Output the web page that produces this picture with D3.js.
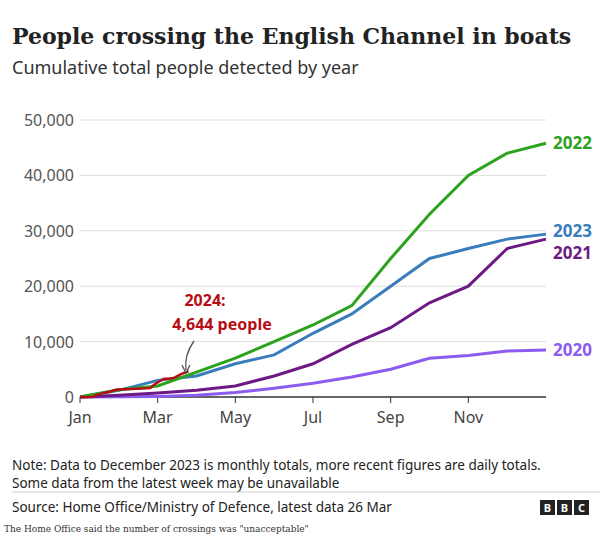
<!DOCTYPE html>
<html><head><meta charset="utf-8">
<script src="https://cdn.jsdelivr.net/npm/d3@7"></script>
<style>
body{margin:0;background:#fff;font-family:"Noto Sans",sans-serif;}
</style></head><body>
<svg id="c" width="613" height="553"></svg>
<script>
// month-end cumulative totals, index 0 = 1 Jan
const months = [0,1,2,3,4,5,6,7,8,9,10,11,12];
const y2022 = [0,1300,2000,4500,7000,10000,13000,16500,25000,33000,40000,44000,45800];
const y2023 = [0,1200,3000,3800,6000,7600,11500,15000,20000,25000,26800,28500,29400];
const y2021 = [0,300,700,1200,2000,3800,6000,9500,12500,17000,20000,26800,28500];
const y2020 = [0,50,100,300,800,1600,2500,3600,5000,7000,7500,8300,8500];
// 2024 daily: [day of year, cumulative]
const d2024 = [[0,0],[10,0],[12,300],[18,700],[24,1000],[28,1300],[35,1400],[45,1500],[55,1600],[58,2200],[62,2800],[66,3300],[70,3300],[74,3500],[78,4000],[81,4300],[85,4644]];
const xTicks = ["Jan","Mar","May","Jul","Sep","Nov"];
const yTicks = [0,10000,20000,30000,40000,50000];

const svg = d3.select("#c");
svg.append("text").attr("x",12).attr("y",44).attr("font-family","'DejaVu Serif',serif").attr("font-weight","bold")
  .attr("font-size",22).attr("fill","#222").text("People crossing the English Channel in boats");
svg.append("text").attr("x",12).attr("y",74).attr("font-size",18).attr("fill","#333").text("Cumulative total people detected by year");

const x = d3.scaleLinear().domain([0,12]).range([80,546]);
const y = d3.scaleLinear().domain([0,50000]).range([397,120]);

svg.append("g").selectAll("line").data(yTicks).join("line")
  .attr("x1",80).attr("x2",546).attr("y1",d=>y(d)).attr("y2",d=>y(d))
  .attr("stroke",d=>d?"#ddd":"#333").attr("stroke-width",d=>d?1:1.5);
svg.append("g").selectAll("text").data(yTicks).join("text")
  .attr("x",74).attr("y",d=>y(d)+6).attr("text-anchor","end").attr("font-size",16).attr("fill","#555")
  .text(d3.format(","));
svg.append("g").selectAll("line").data(xTicks).join("line")
  .attr("x1",(d,i)=>x(i*2)).attr("x2",(d,i)=>x(i*2)).attr("y1",397).attr("y2",403).attr("stroke","#333");
svg.append("g").selectAll("text").data(xTicks).join("text")
  .attr("x",(d,i)=>x(i*2)).attr("y",423).attr("text-anchor","middle").attr("font-size",16).attr("fill","#444").text(d=>d);

const line = d3.line().x((d,i)=>x(months[i])).y(d=>y(d));
const series = [
  {v:y2020,c:"#8c5cf0",name:"2020"},
  {v:y2021,c:"#6d1a84",name:"2021"},
  {v:y2023,c:"#3a7dbd",name:"2023"},
  {v:y2022,c:"#2ba31d",name:"2022"}
];
series.forEach(s=>{
  svg.append("path").attr("d",line(s.v)).attr("fill","none").attr("stroke",s.c).attr("stroke-width",3);
});
const labelY = {"2022":45800,"2023":29400,"2021":27600,"2020":8500};
const labelOff = {"2022":0,"2023":-3,"2021":9,"2020":0};
series.forEach(s=>{
  svg.append("text").attr("x",553).attr("y",y(labelY[s.name])+6+labelOff[s.name]).attr("font-size",17)
    .attr("font-weight","bold").attr("fill",s.c).text(s.name);
});
const dx = d3.scaleLinear().domain([0,365]).range([80,546]);
svg.append("path").attr("d",d3.line().x(d=>dx(d[0])).y(d=>y(d[1]))(d2024))
  .attr("fill","none").attr("stroke","#b80c14").attr("stroke-width",2.5);
svg.append("text").attr("x",205).attr("y",306).attr("text-anchor","middle").attr("font-size",16).attr("font-weight","bold").attr("fill","#b80c14").text("2024:");
svg.append("text").attr("x",222).attr("y",330).attr("text-anchor","middle").attr("font-size",16).attr("font-weight","bold").attr("fill","#b80c14").text("4,644 people");
svg.append("path").attr("d","M194,341 Q184,355 186,370").attr("fill","none").attr("stroke","#555").attr("stroke-width",1.3);
svg.append("path").attr("d","M182,365 L186,373 L190,365").attr("fill","none").attr("stroke","#555").attr("stroke-width",1.3);

const notes = ["Note: Data to December 2023 is monthly totals, more recent figures are daily totals.","Some data from the latest week may be unavailable"];
svg.append("g").selectAll("text").data(notes).join("text").attr("x",12).attr("y",(d,i)=>470+i*18)
  .attr("font-size",13.5).attr("fill","#222").text(d=>d);
svg.append("line").attr("x1",12).attr("x2",600).attr("y1",492).attr("y2",492).attr("stroke","#ccc");
svg.append("text").attr("x",12).attr("y",512).attr("font-size",13.5).attr("fill","#222").text("Source: Home Office/Ministry of Defence, latest data 26 Mar");
["B","B","C"].forEach((l,i)=>{
  svg.append("rect").attr("x",540+i*17).attr("y",500).attr("width",15).attr("height",15).attr("fill","#222");
  svg.append("text").attr("x",547.5+i*17).attr("y",512).attr("text-anchor","middle").attr("font-size",11).attr("font-weight","bold").attr("fill","#fff").text(l);
});
svg.append("text").attr("x",4).attr("y",532).attr("font-family","'DejaVu Serif',serif").attr("font-size",9).attr("fill","#333")
  .text("The Home Office said the number of crossings was \"unacceptable\"");
</script></body></html>
